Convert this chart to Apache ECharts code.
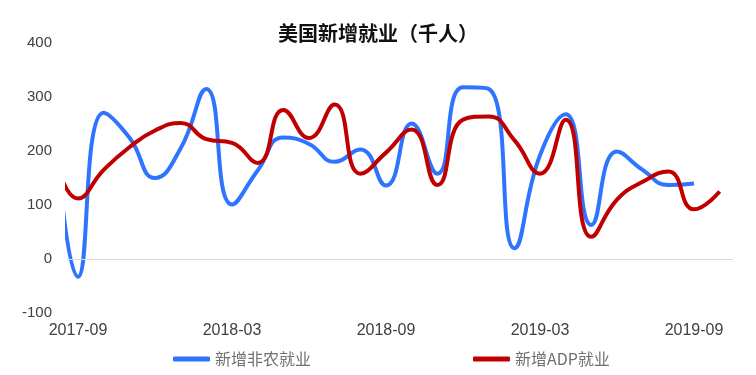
<!DOCTYPE html>
<html><head><meta charset="utf-8">
<script src="https://cdn.jsdelivr.net/npm/echarts@6/dist/echarts.min.js"></script>
<style>html,body{margin:0;padding:0;background:#fff}#c{width:756px;height:375px}</style>
</head><body><div id="c"></div>
<script>
// Months from 2017-08 (index -1) to 2019-10 (index 25)
var months = ['2017-08','2017-09','2017-10','2017-11','2017-12','2018-01','2018-02','2018-03','2018-04','2018-05','2018-06','2018-07','2018-08','2018-09','2018-10','2018-11','2018-12','2019-01','2019-02','2019-03','2019-04','2019-05','2019-06','2019-07','2019-08','2019-09','2019-10'];
var nfp = [320, -33, 271, 225, 150, 205, 315, 101, 164, 225, 213, 180, 203, 136, 251, 158, 318, 315, 20, 192, 268, 63, 199, 165, 137, 140, null];
var adp = [210, 112, 165, 207, 238, 252, 222, 215, 178, 276, 224, 286, 158, 197, 240, 137, 258, 264, 220, 158, 258, 41, 110, 143, 162, 92, 125];
var tickLabels = ['2017-09','2018-03','2018-09','2019-03','2019-09'];
var yTicks = [-100, 0, 100, 200, 300, 400];
var seriesNames = ['新增非农就业', '新增ADP就业'];
var titleText = '美国新增就业（千人）';

function pairs(arr) {
  var out = [];
  for (var i = 0; i < arr.length; i++) {
    if (arr[i] !== null) out.push([i - 1, arr[i]]);
  }
  return out;
}
var tickIdx = tickLabels.map(function (t) { return months.indexOf(t) - 1; });

var chart = echarts.init(document.getElementById('c'));
chart.setOption({
  animation: false,
  backgroundColor: '#fff',
  title: {
    text: titleText, left: 'center', top: 18,
    textStyle: { fontFamily: 'Noto Sans CJK SC', fontWeight: 'bold', fontSize: 20, color: '#111' }
  },
  grid: { left: 67, right: 23, top: 43, bottom: 62 },
  legend: [
    { data: [seriesNames[0]], left: 168, top: 346, itemWidth: 37, itemHeight: 5, icon: 'roundRect', itemGap: 8,
      textStyle: { fontFamily: 'Noto Sans CJK SC', fontSize: 16, color: '#707070' } },
    { data: [seriesNames[1]], left: 468, top: 346, itemWidth: 37, itemHeight: 5, icon: 'roundRect',
      textStyle: { fontFamily: 'Noto Sans CJK SC', fontSize: 16, color: '#707070' } }
  ],
  xAxis: {
    type: 'value', min: -0.43, max: 25.52,
    axisLine: { show: false }, axisTick: { show: false }, splitLine: { show: false },
    axisLabel: {
      customValues: tickIdx, margin: 10,
      fontFamily: 'Liberation Sans', fontSize: 16, color: '#404040',
      formatter: function (v) { return months[Math.round(v) + 1]; }
    }
  },
  yAxis: {
    type: 'value', min: yTicks[0], max: yTicks[yTicks.length - 1], interval: 100,
    axisLine: { show: false }, axisTick: { show: false }, splitLine: { show: false },
    axisLabel: { margin: 15, fontFamily: 'Liberation Sans', fontSize: 15, color: '#404040' }
  },
  series: [
    { name: seriesNames[0], type: 'line', smooth: 0.5, showSymbol: false, symbol: 'none',
      data: pairs(nfp), clip: true, z: 2,
      lineStyle: { width: 4, color: '#2f74ff' }, itemStyle: { color: '#2f74ff' },
      markLine: { silent: true, symbol: 'none', label: { show: false },
        lineStyle: { color: '#d9d9d9', width: 1, type: 'solid' }, data: [{ yAxis: 0 }] } },
    { name: seriesNames[1], type: 'line', smooth: 0.5, showSymbol: false, symbol: 'none',
      data: pairs(adp), clip: true, z: 3,
      lineStyle: { width: 4, color: '#c00000' }, itemStyle: { color: '#c00000' } }
  ]
});
</script></body></html>
